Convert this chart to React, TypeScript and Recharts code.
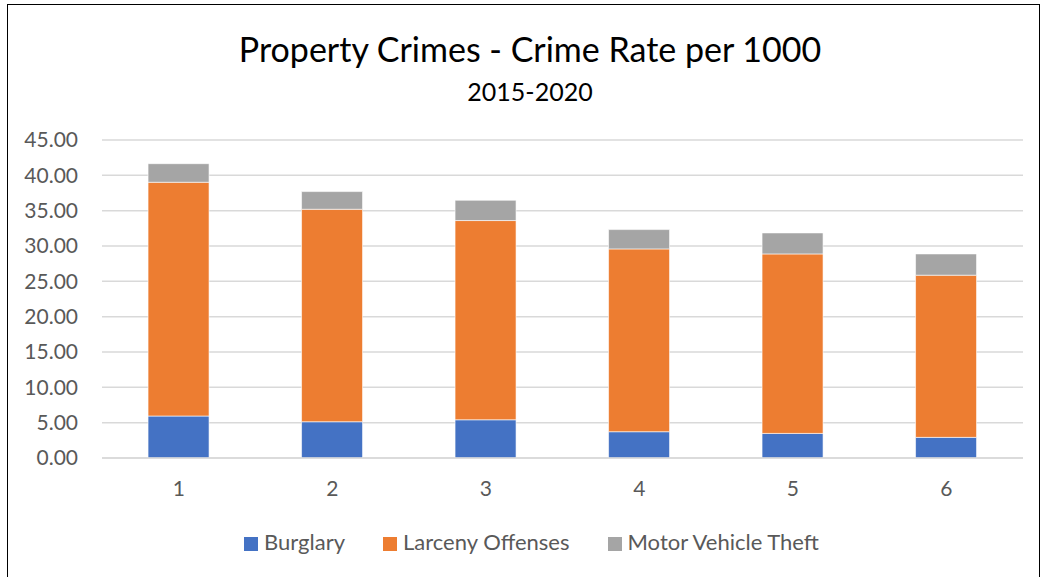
import { BarChart, Bar, XAxis, YAxis, CartesianGrid, Legend } from "recharts";

const years = ["1", "2", "3", "4", "5", "6"];
const burglary = [5.94, 5.13, 5.41, 3.72, 3.48, 2.92];
const larceny = [33.08, 30.07, 28.19, 25.87, 25.4, 22.95];
const motorVehicle = [2.63, 2.5, 2.87, 2.73, 2.97, 3.01];
const yTicks = [0, 5, 10, 15, 20, 25, 30, 35, 40, 45];

const data = years.map((year, i) => ({
  year,
  Burglary: burglary[i],
  "Larceny Offenses": larceny[i],
  "Motor Vehicle Theft": motorVehicle[i],
}));

const FONT = "Lato, 'Open Sans', sans-serif";
const TEXT = "#595959";

export default function App() {
  return (
    <div
      style={{
        position: "fixed",
        left: 0,
        top: 0,
        width: 1043,
        height: 577,
        background: "#fff",
        fontFamily: FONT,
        overflow: "hidden",
      }}
    >
      <div
        style={{
          position: "absolute",
          left: 7,
          top: 4,
          width: 1031,
          height: 590,
          border: "1.5px solid #000",
        }}
      />
      <div
        style={{
          position: "absolute",
          left: 0,
          width: 1060,
          top: 28,
          textAlign: "center",
          fontSize: 34,
          color: "#000",
        }}
      >
        Property Crimes - Crime Rate per 1000
      </div>
      <div
        style={{
          position: "absolute",
          left: 0,
          width: 1060,
          top: 76,
          textAlign: "center",
          fontSize: 25,
          color: "#000",
        }}
      >
        2015-2020
      </div>
      <div style={{ position: "absolute", left: 0, top: 0 }}>
        <BarChart
          width={1043}
          height={577}
          data={data}
          barCategoryGap="30%"
          margin={{ top: 140, right: 20, bottom: 62, left: 22 }}
        >
          <CartesianGrid vertical={false} stroke="#d9d9d9" strokeWidth={1.5} />
          <XAxis
            dataKey="year"
            height={30}
            tickLine={false}
            tickSize={0}
            tickMargin={23}
            axisLine={{ stroke: "#d9d9d9", strokeWidth: 1.5 }}
            tick={{ fill: TEXT, fontSize: 21, fontFamily: FONT }}
          />
          <YAxis
            width={80}
            domain={[0, 45]}
            ticks={yTicks}
            interval={0}
            axisLine={false}
            tickLine={false}
            tickSize={0}
            tickMargin={24}
            tickFormatter={(v: number) => v.toFixed(2)}
            tick={{ fill: TEXT, fontSize: 21, fontFamily: FONT }}
          />
          <Legend
            verticalAlign="bottom"
            iconType="square"
            iconSize={14}
            wrapperStyle={{
              top: 528,
              bottom: "auto",
              paddingLeft: 28,
              fontSize: 22,
              fontFamily: FONT,
            }}
            formatter={(value: string) => (
              <span style={{ color: TEXT, marginLeft: 2, marginRight: 28 }}>{value}</span>
            )}
          />
          <Bar dataKey="Burglary" stackId="a" fill="#4472C4" stroke="#fff" strokeWidth={0.6} isAnimationActive={false} />
          <Bar dataKey="Larceny Offenses" stackId="a" fill="#ED7D31" stroke="#fff" strokeWidth={0.6} isAnimationActive={false} />
          <Bar dataKey="Motor Vehicle Theft" stackId="a" fill="#A5A5A5" stroke="#fff" strokeWidth={0.6} isAnimationActive={false} />
        </BarChart>
      </div>
    </div>
  );
}
